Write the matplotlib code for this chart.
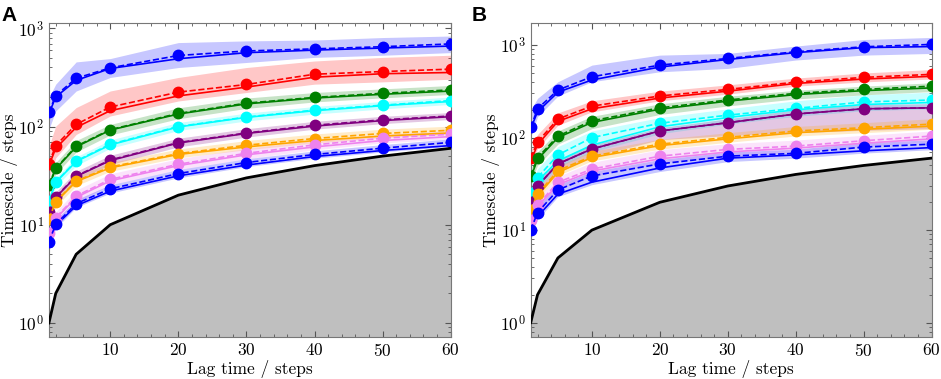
import numpy as np
import matplotlib
matplotlib.use("Agg")
import matplotlib.pyplot as plt
from matplotlib.ticker import AutoMinorLocator

plt.rcParams['font.family'] = 'cmr10'
plt.rcParams['mathtext.fontset'] = 'cm'
plt.rcParams['axes.formatter.use_mathtext'] = True

# lag times (steps)
lag = [1, 2, 5, 10, 20, 30, 40, 50, 60]

colors = ['blue', 'red', 'green', 'cyan', 'purple', 'orange', 'violet', 'blue']

# panel A -- dashed (with markers), solid, band low / high
A_dashed = [
    [140, 207, 310, 396, 529, 588, 618, 650, 694],
    [42, 64, 105, 158, 224, 268, 341, 363, 384],
    [25.4, 37.6, 63, 93, 136, 173, 198, 218, 236],
    [17.5, 27.3, 44.6, 66, 100, 125, 147, 165, 184],
    [13.4, 19.2, 31.4, 45.7, 68.7, 86, 103, 117, 128],
    [11.4, 17.2, 27.9, 38.8, 53, 64.5, 75.5, 85, 91.6],
    [8.3, 11.8, 19.6, 29, 41.3, 53.4, 65, 76, 83.5],
    [6.7, 10.1, 16.4, 23.2, 33.2, 43, 51.9, 60.2, 69],
]
A_solid = [
    [135, 200, 295, 390, 490, 565, 600, 630, 660],
    [40, 60, 98, 145, 205, 252, 318, 345, 355],
    [25, 37, 62, 92, 134, 170, 195, 213, 230],
    [17.5, 27, 44, 65, 99, 124, 145, 163, 180],
    [13.2, 19, 31, 45, 68, 85, 101, 115, 126],
    [11.2, 17, 27.5, 38, 52, 62, 72, 80, 86],
    [8.2, 11.5, 19, 28, 40, 51.5, 62, 72, 79],
    [6.6, 9.8, 15.6, 22, 31.5, 40.5, 49.5, 57, 64],
]
A_low = [
    [94, 144, 230, 316, 399, 449, 506, 532, 566],
    [29, 48, 83, 128, 182, 222, 270, 285, 303],
    [22, 33, 55, 82, 120, 153, 178, 196, 212],
    [15.5, 24.5, 40, 60, 91, 114, 134, 151, 168],
    [12, 17, 28, 41, 62, 78, 94, 107, 118],
    [10.2, 15.3, 25, 35, 48, 58, 68, 77, 83],
    [7.3, 10.4, 17, 25.5, 36.5, 47, 58, 68, 75],
    [6.1, 9.2, 15, 21, 30, 39, 47.5, 55, 63],
]
A_high = [
    [197, 270, 455, 492, 716, 745, 760, 806, 835],
    [63, 101, 156, 230, 316, 399, 465, 506, 532],
    [29, 43, 72, 105, 155, 195, 222, 242, 262],
    [19.5, 30, 49, 73, 110, 137, 160, 180, 200],
    [15, 21.5, 35, 51, 76, 95, 113, 127, 139],
    [12.8, 19.3, 31, 43, 59, 72, 84, 94, 101],
    [9.5, 13.5, 22.5, 33, 47, 60, 72, 83, 91],
    [7.4, 11.2, 18, 25.5, 36.5, 47, 56.5, 65.5, 75],
]

# panel B
B_dashed = [
    [129, 205, 327, 455, 608, 718, 847, 960, 1018],
    [60, 90, 159, 219, 282, 332, 398, 448, 483],
    [38.7, 60.6, 104, 152, 210, 255, 301, 332, 360],
    [25, 37, 65, 100, 143, 175, 207, 243, 255],
    [20, 30, 52, 75.4, 118, 145, 180, 205, 210],
    [16.5, 24.5, 44, 63, 85, 100.7, 118, 128, 140],
    [12.9, 18.7, 32.9, 45.7, 63, 74.6, 81, 92.5, 104],
    [10, 15.5, 27.2, 38.5, 52, 63, 67.6, 79, 85],
]
B_solid = [
    [125, 190, 310, 420, 580, 700, 830, 940, 965],
    [55, 84, 150, 205, 268, 318, 385, 430, 460],
    [37, 58, 100, 146, 203, 248, 292, 322, 345],
    [23, 34, 56, 83, 131, 165, 200, 228, 240],
    [20, 30, 52, 75.4, 118, 145, 180, 205, 210],
    [16, 23.5, 42, 61, 82, 97, 113, 123, 133],
    [12.5, 18, 31, 43.5, 59, 70, 77, 87, 97],
    [9.5, 14, 24.5, 33, 47, 60, 65, 72, 78],
]
B_low = [
    [102, 168, 282, 402, 515, 560, 690, 780, 813],
    [50, 76, 136, 190, 250, 295, 360, 400, 430],
    [33, 50, 85, 125, 178, 220, 262, 290, 315],
    [20, 28, 48, 70, 110, 140, 170, 195, 205],
    [17, 25, 42, 62, 95, 105, 113, 120, 125],
    [14.5, 21.5, 39, 56, 75, 89, 104, 113, 123],
    [10.5, 15.5, 27.5, 38, 53, 63, 70, 80, 90],
    [8.8, 13, 23, 31, 43, 55, 60, 68, 74],
]
B_high = [
    [199, 266, 402, 608, 780, 813, 977, 1150, 1211],
    [72, 108, 185, 250, 318, 372, 440, 500, 545],
    [45, 70, 118, 170, 232, 280, 325, 360, 392],
    [32, 46, 80, 118, 165, 205, 250, 290, 310],
    [23, 34, 58, 83, 128, 160, 200, 228, 233],
    [18.5, 27.5, 49, 71, 96, 113, 132, 145, 160],
    [15, 22, 38, 54, 74, 86, 94, 106, 118],
    [11.5, 18, 31, 43, 58, 70, 75, 88, 95],
]

fig = plt.figure(figsize=(9.41, 3.79), dpi=100)
axA = fig.add_axes([0.052, 0.111, 0.427, 0.828])
axB = fig.add_axes([0.564, 0.111, 0.426, 0.828])


def draw_panel(ax, dashed, solid, low, high, ylim):
    ax.fill_between(lag, 1e-2, lag, color='#bfbfbf', zorder=1)
    ax.plot(lag, lag, color='black', lw=2, zorder=5)
    for i in range(len(colors)):
        c = colors[i]
        ax.fill_between(lag, low[i], high[i], color=c, alpha=0.22, lw=0, zorder=2)
        ax.plot(lag, solid[i], color=c, lw=1.2, zorder=3)
        ax.plot(lag, dashed[i], color=c, lw=1.2, ls='--', marker='o', ms=7.5, zorder=4)
    ax.set_yscale('log')
    ax.set_xlim(1, 60)
    ax.set_ylim(*ylim)
    ax.set_xticks([10, 20, 30, 40, 50, 60])
    ax.xaxis.set_minor_locator(AutoMinorLocator(5))
    ax.tick_params(which='both', direction='in', top=True, right=True, labelsize=12.5, color='#555555')
    ax.tick_params(which='major', length=4)
    ax.tick_params(which='minor', length=2)
    for s in ax.spines.values():
        s.set_color('#777777')
    ax.set_xlabel('Lag time / steps', fontsize=12.5, labelpad=1)
    ax.set_ylabel('Timescale / steps', fontsize=12.5, labelpad=0)


draw_panel(axA, A_dashed, A_solid, A_low, A_high, (0.72, 1130))
draw_panel(axB, B_dashed, B_solid, B_low, B_high, (0.70, 1730))

fig.text(0.002, 0.985, 'A', fontsize=15, fontweight='bold', family='Liberation Sans', va='top')
fig.text(0.501, 0.985, 'B', fontsize=15, fontweight='bold', family='Liberation Sans', va='top')

fig.savefig('out.png', dpi=100)
